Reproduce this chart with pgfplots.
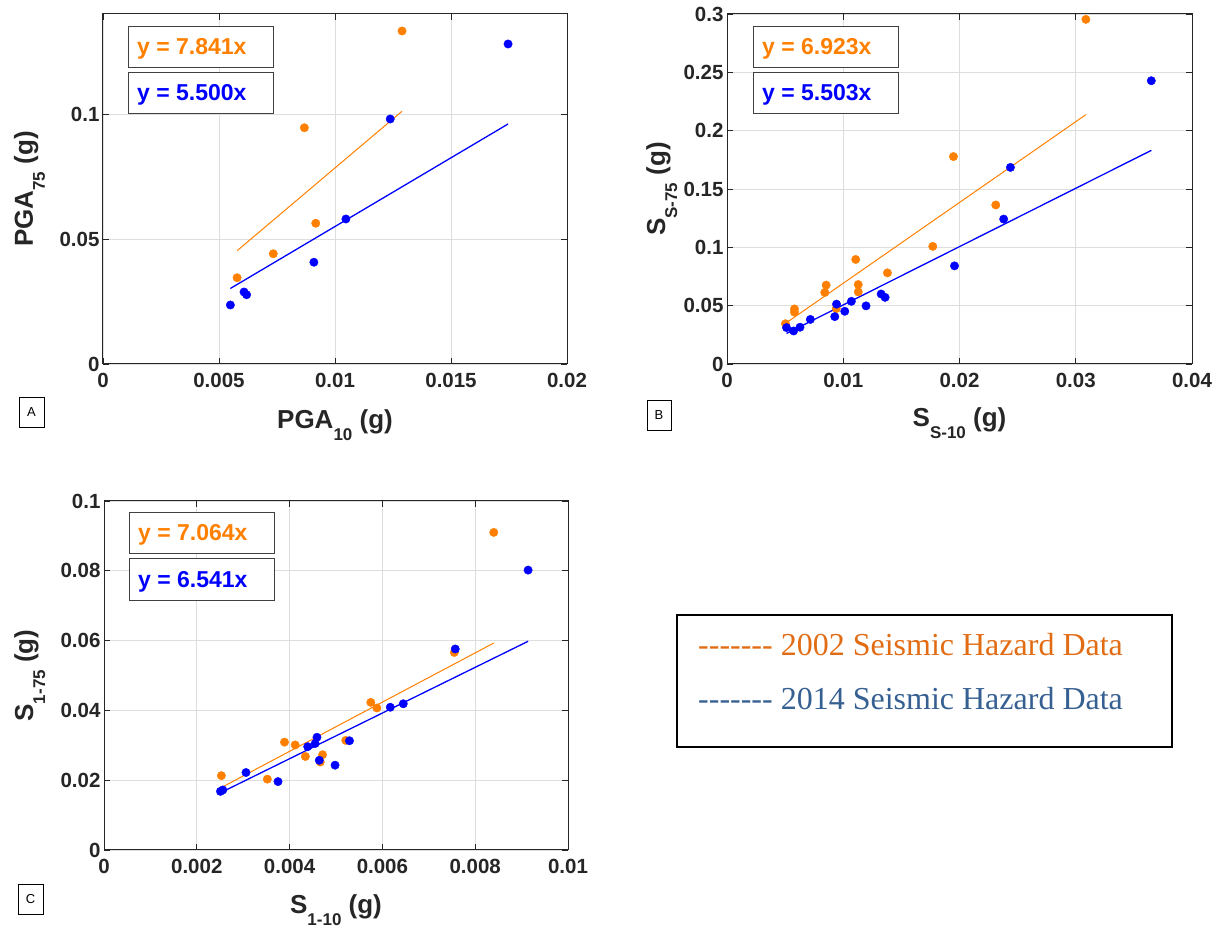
\documentclass[border=0pt]{standalone}
\usepackage{pgfplots}
\pgfplotsset{compat=1.18}
\usepackage{fontspec}
\setmainfont{Liberation Sans}
\newfontfamily\legfont{Liberation Serif}

\definecolor{mOrange}{RGB}{255,128,0}
\definecolor{mBlue}{RGB}{0,0,255}
\definecolor{axgray}{RGB}{38,38,38}
\definecolor{legOrange}{RGB}{226,108,20}
\definecolor{legBlue}{RGB}{54,96,146}

% label with lowered subscript, as in the MATLAB figure
\newcommand{\lbl}[2]{#1\raisebox{-12pt}{\fontsize{17}{17}\selectfont #2}\ (g)}
\newcommand{\hy}{-{}-{}-{}-{}-{}-{}-}

\pgfplotsset{
  panel/.style={
    scale only axis, anchor=south west,
    xmin=0, ymin=0,
    scaled ticks=false,
    axis line style={draw=axgray, line width=1pt},
    tick style={draw=axgray, line width=0.8pt},
    major tick length=6pt,
    tick align=inside, tick pos=both,
    grid=major, major grid style={draw=black!13, line width=0.8pt},
    ticklabel style={font=\fontsize{20.5}{20.5}\selectfont\bfseries, text=axgray},
    label style={font=\fontsize{26}{26}\selectfont\bfseries, text=axgray},
    xticklabel style={yshift=-6pt},
    xlabel style={anchor=base},
    ylabel style={anchor=base},
  },
  pts02/.style={only marks, mark=*, mark size=4.2pt, mark options={draw=mOrange, fill=mOrange}},
  pts14/.style={only marks, mark=*, mark size=4.2pt, mark options={draw=mBlue, fill=mBlue}},
  fit02/.style={no marks, draw=mOrange, line width=1pt},
  fit14/.style={no marks, draw=mBlue, line width=1.3pt},
}

\begin{document}
\begin{tikzpicture}

% ---- A: PGA
\begin{axis}[panel, at={(103pt,564pt)}, width=464pt, height=350pt,
  xmax=0.02, ymax=0.14,
  xtick={0,0.005,0.01,0.015,0.02}, xticklabels={0,0.005,0.01,0.015,0.02},
  ytick={0,0.05,0.1}, yticklabels={0,0.05,0.1},
  xlabel={\lbl{PGA}{10}}, ylabel={\lbl{PGA}{75}},
  xlabel style={at={(axis description cs:0.5,-0.183)}},
  ylabel style={at={(axis description cs:-0.151,0.5)}}]
\addplot[pts02] coordinates {(0.01289,0.1332) (0.00868,0.0945) (0.00917,0.0563) (0.00734,0.0441) (0.00578,0.0345)};
\addplot[pts14] coordinates {(0.01746,0.1280) (0.01238,0.0980) (0.01047,0.0580) (0.00909,0.0407) (0.00608,0.0288) (0.00619,0.0277) (0.00549,0.0236)};
\addplot[fit02] coordinates {(0.00578,0.0453) (0.01289,0.1011)};
\addplot[fit14] coordinates {(0.00549,0.0302) (0.01746,0.0960)};
\end{axis}

% ---- B: Ss
\begin{axis}[panel, at={(727pt,564pt)}, width=465pt, height=350pt,
  xmax=0.04, ymax=0.3,
  xtick={0,0.01,0.02,0.03,0.04}, xticklabels={0,0.01,0.02,0.03,0.04},
  ytick={0,0.05,0.1,0.15,0.2,0.25,0.3}, yticklabels={0,0.05,0.1,0.15,0.2,0.25,0.3},
  xlabel={\lbl{S}{S-10}}, ylabel={\lbl{S}{S-75}},
  xlabel style={at={(axis description cs:0.5,-0.18)}},
  ylabel style={at={(axis description cs:-0.133,0.5)}}]
\addplot[pts02] coordinates {(0.03087,0.2954) (0.01948,0.1778) (0.02312,0.1363) (0.01770,0.1008) (0.01107,0.0896) (0.01380,0.0781) (0.01129,0.0681) (0.01129,0.0618) (0.00853,0.0676) (0.00841,0.0613) (0.00580,0.0472) (0.00580,0.0444) (0.00940,0.0475) (0.00503,0.0345)};
\addplot[pts14] coordinates {(0.03650,0.2428) (0.02438,0.1685) (0.02380,0.1242) (0.01957,0.0841) (0.01326,0.0600) (0.01360,0.0571) (0.01196,0.0498) (0.01070,0.0537) (0.01013,0.0452) (0.00942,0.0513) (0.00927,0.0406) (0.00717,0.0382) (0.00628,0.0315) (0.00573,0.0283) (0.00512,0.0312)};
\addplot[fit02] coordinates {(0.00503,0.0348) (0.03087,0.2137)};
\addplot[fit14] coordinates {(0.00512,0.0262) (0.03650,0.1831)};
\end{axis}

% ---- C: S1
\begin{axis}[panel, at={(104pt,78pt)}, width=464pt, height=349pt,
  xmax=0.01, ymax=0.1,
  xtick={0,0.002,0.004,0.006,0.008,0.01}, xticklabels={0,0.002,0.004,0.006,0.008,0.01},
  ytick={0,0.02,0.04,0.06,0.08,0.1}, yticklabels={0,0.02,0.04,0.06,0.08,0.1},
  xlabel={\lbl{S}{1-10}}, ylabel={\lbl{S}{1-75}},
  xlabel style={at={(axis description cs:0.5,-0.183)}},
  ylabel style={at={(axis description cs:-0.153,0.5)}}]
\addplot[pts02] coordinates {(0.00840,0.0910) (0.00755,0.0566) (0.00575,0.0423) (0.00588,0.0407) (0.00389,0.0309) (0.00412,0.0301) (0.00434,0.0268) (0.00471,0.0273) (0.00466,0.0252) (0.00521,0.0314) (0.00352,0.0203) (0.00253,0.0213)};
\addplot[pts14] coordinates {(0.00914,0.0802) (0.00757,0.0576) (0.00645,0.0419) (0.00617,0.0409) (0.00529,0.0313) (0.00498,0.0243) (0.00464,0.0257) (0.00459,0.0323) (0.00455,0.0305) (0.00439,0.0296) (0.00375,0.0196) (0.00306,0.0222) (0.00256,0.0172) (0.00251,0.0168)};
\addplot[fit02] coordinates {(0.00253,0.0179) (0.00840,0.0593)};
\addplot[fit14] coordinates {(0.00251,0.0164) (0.00914,0.0598)};
\end{axis}

% fit equation boxes
\tikzset{eqbox/.style={draw=black!75, line width=1pt, fill=white},
  eqtxt/.style={anchor=base west, inner sep=0pt, font=\fontsize{23}{23}\selectfont\bfseries}}
\draw[eqbox] (128pt,860pt) rectangle (273pt,901pt);
\node[eqtxt, text=mOrange] at (137pt,873pt) {y = 7.841x};
\draw[eqbox] (128pt,814pt) rectangle (273pt,855pt);
\node[eqtxt, text=mBlue] at (137pt,827pt) {y = 5.500x};
\draw[eqbox] (753pt,860pt) rectangle (898pt,901pt);
\node[eqtxt, text=mOrange] at (762pt,873pt) {y = 6.923x};
\draw[eqbox] (753pt,814pt) rectangle (898pt,855pt);
\node[eqtxt, text=mBlue] at (762pt,827pt) {y = 5.503x};
\draw[eqbox] (129pt,374pt) rectangle (274pt,415pt);
\node[eqtxt, text=mOrange] at (138pt,387pt) {y = 7.064x};
\draw[eqbox] (129pt,327pt) rectangle (274pt,369pt);
\node[eqtxt, text=mBlue] at (138pt,340pt) {y = 6.541x};

% panel letters
\tikzset{pl/.style={font=\fontsize{13}{13}\selectfont}}
\draw[line width=0.8pt] (19pt,501pt) rectangle (44pt,531pt);
\node[pl] at (31.5pt,516pt) {A};
\draw[line width=0.8pt] (647pt,498pt) rectangle (671pt,528pt);
\node[pl] at (659pt,513pt) {B};
\draw[line width=0.8pt] (18pt,14pt) rectangle (43pt,44pt);
\node[pl] at (30.5pt,29pt) {C};

% legend
\draw[line width=2pt] (677pt,181pt) rectangle (1172pt,313pt);
\node[anchor=base west, inner sep=0pt, font=\legfont\fontsize{32}{32}\selectfont, text=legOrange] at (698pt,272pt) {\hy\ 2002 Seismic Hazard Data};
\node[anchor=base west, inner sep=0pt, font=\legfont\fontsize{32}{32}\selectfont, text=legBlue] at (698pt,218pt) {\hy\ 2014 Seismic Hazard Data};

\pgfresetboundingbox
\useasboundingbox (0pt,0pt) rectangle (1218pt,928pt);
\end{tikzpicture}
\end{document}
